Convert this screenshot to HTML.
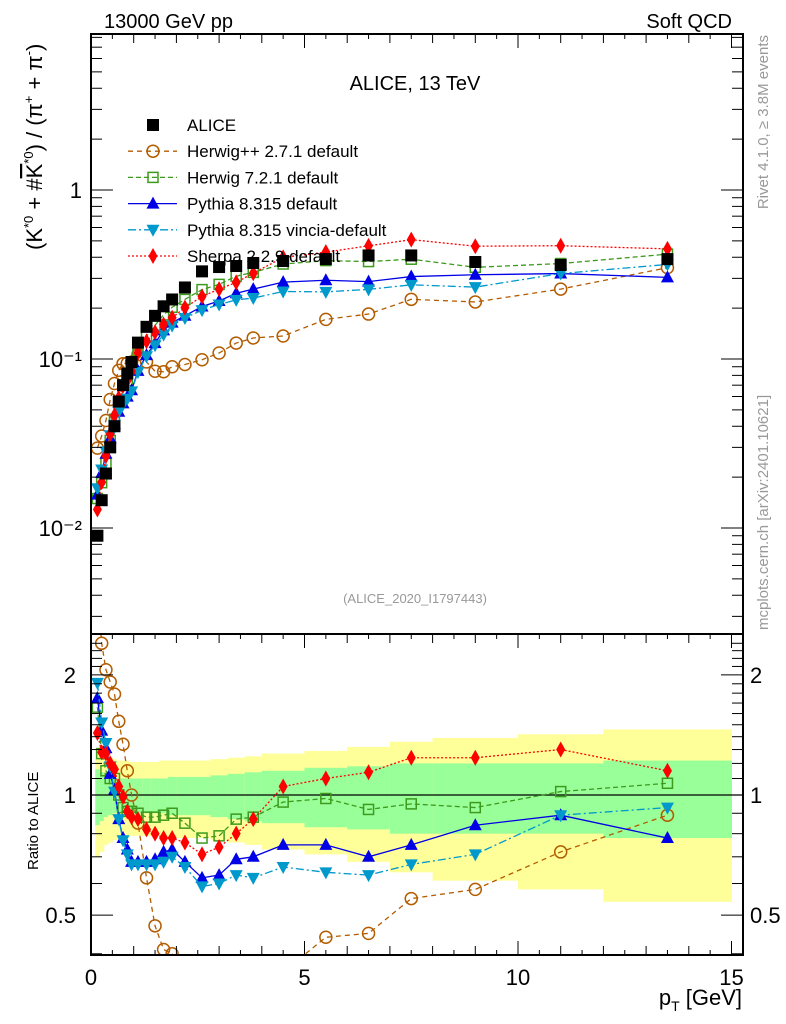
<!DOCTYPE html>
<html><head><meta charset="utf-8"><style>
body{margin:0;background:#fff;}
svg{display:block;font-family:"Liberation Sans",Arial,sans-serif;}
</style></head><body>
<svg id="chart" width="786" height="1024" viewBox="0 0 786 1024" xmlns="http://www.w3.org/2000/svg">
<g id="bands"></g>
<g id="marks"></g>
<g id="axes"></g>
<text x="104" y="28" font-size="20">13000 GeV pp</text>
<text x="732" y="28" font-size="20" text-anchor="end">Soft QCD</text>
<text x="415" y="90" font-size="20" text-anchor="middle">ALICE, 13 TeV</text>
<text x="415" y="603" font-size="13" fill="#999" text-anchor="middle">(ALICE_2020_I1797443)</text>
<text transform="translate(768,35) rotate(-90)" font-size="15" fill="#999" text-anchor="end">Rivet 4.1.0, ≥ 3.8M events</text>
<text transform="translate(768,630) rotate(-90)" font-size="15" fill="#999">mcplots.cern.ch [arXiv:2401.10621]</text>
<text transform="translate(42,250) rotate(-90)" font-size="22">(K<tspan dy="-9" font-size="13">*0</tspan><tspan dy="9"> + #</tspan><tspan text-decoration="overline">K</tspan><tspan dy="-9" font-size="13">*0</tspan><tspan dy="9">) / (π</tspan><tspan dy="-9" font-size="13">+</tspan><tspan dy="9"> + π</tspan><tspan dy="-9" font-size="13">-</tspan><tspan dy="9">)</tspan></text>
<text transform="translate(38,870) rotate(-90)" font-size="15">Ratio to ALICE</text>
<text x="742" y="1005" font-size="22" text-anchor="end">p<tspan dy="6" font-size="14">T</tspan><tspan dy="-6"> [GeV]</tspan></text>
<g id="legend"></g>
</svg>
<script>
const pT=[0.15,0.25,0.35,0.45,0.55,0.65,0.75,0.85,0.95,1.1,1.3,1.5,1.7,1.9,2.2,2.6,3.0,3.4,3.8,4.5,5.5,6.5,7.5,9,11,13.5];
const binEdges=[0.1,0.2,0.3,0.4,0.5,0.6,0.7,0.8,0.9,1.0,1.2,1.4,1.6,1.8,2.0,2.4,2.8,3.2,3.6,4.0,5,6,7,8,10,12,15];
const alice=[0.009,0.0146,0.021,0.030,0.040,0.056,0.070,0.082,0.096,0.125,0.155,0.18,0.205,0.225,0.265,0.33,0.35,0.355,0.37,0.38,0.39,0.41,0.41,0.375,0.36,0.39];
const errTot=[0.30,0.28,0.25,0.24,0.23,0.22,0.22,0.22,0.21,0.21,0.21,0.21,0.22,0.22,0.22,0.22,0.23,0.24,0.25,0.27,0.29,0.32,0.36,0.39,0.42,0.46];
const errStat=[0.16,0.14,0.12,0.11,0.1,0.1,0.1,0.1,0.1,0.1,0.1,0.1,0.1,0.11,0.11,0.11,0.12,0.13,0.14,0.15,0.17,0.18,0.2,0.2,0.2,0.22];
const rHerwigPP=[3.3,2.40,2.06,1.92,1.79,1.53,1.34,1.15,1.0,0.85,0.62,0.47,0.41,0.40,0.35,0.30,0.31,0.35,0.36,0.36,0.44,0.45,0.55,0.58,0.72,0.89];
const rHerwig7=[1.66,1.27,1.15,1.10,1.10,1.0,0.93,0.91,0.91,0.90,0.88,0.88,0.89,0.90,0.85,0.78,0.79,0.87,0.88,0.96,0.98,0.92,0.95,0.93,1.02,1.07];
const rPythia=[1.75,1.45,1.31,1.13,1.03,0.87,0.78,0.73,0.68,0.68,0.68,0.69,0.72,0.73,0.68,0.62,0.63,0.69,0.70,0.75,0.75,0.70,0.75,0.84,0.89,0.78];
const rVincia=[1.91,1.52,1.35,1.18,1.02,0.87,0.77,0.71,0.67,0.67,0.67,0.67,0.68,0.70,0.66,0.59,0.60,0.63,0.62,0.66,0.64,0.63,0.67,0.71,0.89,0.93];
const rSherpa=[1.43,1.28,1.27,1.20,1.16,1.05,0.99,0.91,0.88,0.87,0.82,0.80,0.78,0.78,0.76,0.71,0.74,0.80,0.87,1.05,1.10,1.14,1.24,1.24,1.30,1.15];
const yTickMain=["10\u207B\u00B2","10\u207B\u00B9","1"];
const xTickLabels=["0","5","10","15"];
const ratioTickLabels=["0.5","1","2"];

const NS="http://www.w3.org/2000/svg";
const L=91,R=743,T=34,MB=634,RB=955;
const xs=v=>L+v*42.7;
const ys=v=>190-169*Math.log10(v);
const yr=v=>795-399*Math.log10(v);
function el(tag,attrs,parent){const e=document.createElementNS(NS,tag);for(const k in attrs)e.setAttribute(k,attrs[k]);parent.appendChild(e);return e;}
const bands=document.getElementById('bands'),marks=document.getElementById('marks'),axes=document.getElementById('axes'),legend=document.getElementById('legend');
const clipR=el('clipPath',{id:'cr'},marks);el('rect',{x:L,y:MB,width:R-L,height:RB-MB},clipR);
const clipM=el('clipPath',{id:'cm'},marks);el('rect',{x:L,y:T,width:R-L,height:MB-T},clipM);
// bands
for(let i=0;i<pT.length;i++){
  const x0=xs(binEdges[i]),x1=xs(binEdges[i+1]);
  const yb=el('rect',{x:x0,y:yr(1+errTot[i]),width:x1-x0+0.5,height:yr(1-errTot[i])-yr(1+errTot[i]),fill:'#ffff99'},bands);
  
  
  const gb=el('rect',{x:x0,y:yr(1+errStat[i]),width:x1-x0+0.5,height:yr(1-errStat[i])-yr(1+errStat[i]),fill:'#99ff99'},bands);
  
  
}
el('line',{x1:L,x2:R,y1:yr(1),y2:yr(1),stroke:'#000','stroke-width':1.2},bands);
function marker(type,x,y,c,parent){
  let m;const s=6;
  if(type==='sq') m=el('rect',{x:x-s,y:y-s,width:2*s,height:2*s,fill:'#000'},parent);
  else if(type==='osq') m=el('rect',{x:x-5,y:y-5,width:10,height:10,fill:'none',stroke:c,'stroke-width':1.5},parent);
  else if(type==='oc') m=el('circle',{cx:x,cy:y,r:6,fill:'none',stroke:c,'stroke-width':1.5},parent);
  else if(type==='tu') m=el('polygon',{points:`${x},${y-7} ${x-6.5},${y+5} ${x+6.5},${y+5}`,fill:c},parent);
  else if(type==='td') m=el('polygon',{points:`${x},${y+7} ${x-6.5},${y-5} ${x+6.5},${y-5}`,fill:c},parent);
  else m=el('polygon',{points:`${x},${y-8} ${x-4.5},${y} ${x},${y+8} ${x+4.5},${y}`,fill:c},parent);
  return m;
}
const series=[
 {name:'Herwig++ 2.7.1 default',r:rHerwigPP,c:'#b35c00',m:'oc',dash:'5,4',key:'herwigpp'},
 {name:'Herwig 7.2.1 default',r:rHerwig7,c:'#3c9a1c',m:'osq',dash:'5,3',key:'herwig7'},
 {name:'Pythia 8.315 default',r:rPythia,c:'#0000e6',m:'tu',dash:'',key:'pythia'},
 {name:'Pythia 8.315 vincia-default',r:rVincia,c:'#0099cc',m:'td',dash:'8,3,2,3',key:'vincia'},
 {name:'Sherpa 2.2.9 default',r:rSherpa,c:'#ff0000',m:'dia',dash:'2,2',key:'sherpa'}];
const gMain=el('g',{'clip-path':'url(#cm)'},marks);
const gRat=el('g',{'clip-path':'url(#cr)'},marks);
series.forEach(s=>{
  const pm=pT.map((p,i)=>xs(p)+','+ys(alice[i]*s.r[i])).join(' ');
  const lm=el('polyline',{points:pm,fill:'none',stroke:s.c,'stroke-width':1.3,'stroke-dasharray':s.dash},gMain);
  
  
  const pr=pT.map((p,i)=>xs(p)+','+yr(s.r[i])).join(' ');
  const lr=el('polyline',{points:pr,fill:'none',stroke:s.c,'stroke-width':1.3,'stroke-dasharray':s.dash},gRat);
  
  
  pT.forEach((p,i)=>{
    const a=marker(s.m,xs(p),ys(alice[i]*s.r[i]),s.c,gMain);
    
    
    const b=marker(s.m,xs(p),yr(s.r[i]),s.c,gRat);
    
    
  });
});
pT.forEach((p,i)=>{
  const a=marker('sq',xs(p),ys(alice[i]),'#000',gMain);
  
  
});
// axes frames
el('rect',{x:L,y:T,width:R-L,height:MB-T,fill:'none',stroke:'#000','stroke-width':2},axes);
el('rect',{x:L,y:MB,width:R-L,height:RB-MB,fill:'none',stroke:'#000','stroke-width':2},axes);
// x ticks
for(let v=0;v<=15.2;v+=0.5){
  const major=Math.abs(v-Math.round(v/5)*5)<1e-6, mid=Math.abs(v-Math.round(v))<1e-6;
  const len=major?14:(mid?9:5);
  [[MB,1],[RB,-1],[T,1]].forEach(([y,d])=>el('line',{x1:xs(v),x2:xs(v),y1:y,y2:y+d*len,stroke:'#000','stroke-width':1},axes));
  if(major){}
}
xTickLabels.forEach((t,i)=>{const tx=el('text',{x:xs(i*5),y:985,'font-size':22,'text-anchor':'middle'},axes);tx.textContent=t;
  
  });
// main y ticks
for(let d=-3;d<=0;d++){for(let k=1;k<=9;k++){const v=k*Math.pow(10,d);const y=ys(v);if(y<T||y>MB)continue;
  const len=k===1?22:11;
  el('line',{x1:L,x2:L+len,y1:y,y2:y,stroke:'#000'},axes);el('line',{x1:R,x2:R-len,y1:y,y2:y,stroke:'#000'},axes);}}
yTickMain.forEach((t,i)=>{const tx=el('text',{x:82,y:ys(Math.pow(10,i-2))+8,'font-size':22,'text-anchor':'end'},axes);tx.textContent=t;
  
  });
// ratio y ticks
[0.4,0.5,0.6,0.7,0.8,0.9,1,1.1,1.2,1.3,1.4,1.5,1.6,1.7,1.8,1.9,2,2.1,2.2,2.3,2.4].forEach(v=>{const y=yr(v);if(y<MB||y>RB)return;
  const len=(v===0.5||v===1||v===2)?22:11;
  el('line',{x1:L,x2:L+len,y1:y,y2:y,stroke:'#000'},axes);el('line',{x1:R,x2:R-len,y1:y,y2:y,stroke:'#000'},axes);});
ratioTickLabels.forEach(t=>{const v=parseFloat(t);
  const a=el('text',{x:76,y:yr(v)+8,'font-size':22,'text-anchor':'end'},axes);a.textContent=t;
  
  
  const b=el('text',{x:750,y:yr(v)+8,'font-size':22},axes);b.textContent=t;
  
  });
// legend
const rows=[{name:'ALICE',m:'sq',c:'#000',dash:null}].concat(series);
rows.forEach((s,i)=>{const y=125+i*26.2;
  const g=el('g',{},legend);
  
  
  if(s.dash!==null) el('line',{x1:128,x2:177,y1:y,y2:y,stroke:s.c,'stroke-width':1.3,'stroke-dasharray':s.dash},g);
  marker(s.m,153,y,s.c,g);
  const t=el('text',{x:187,y:y+6,'font-size':17},g);t.textContent=s.name;});
</script>
</body></html>
